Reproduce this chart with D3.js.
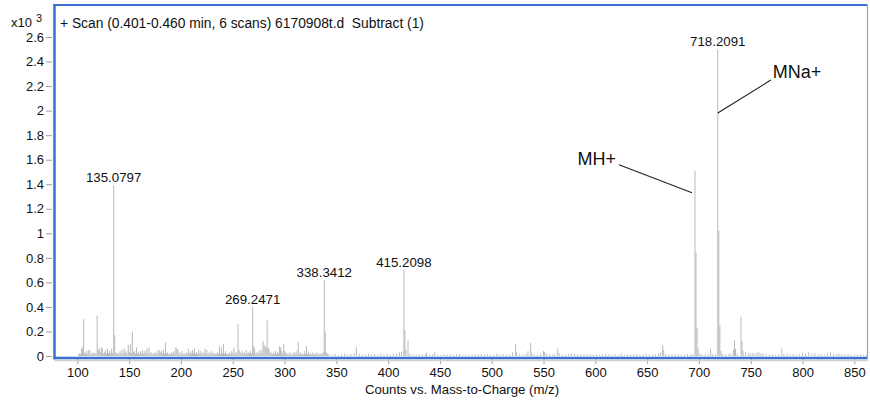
<!DOCTYPE html>
<html>
<head>
<meta charset="utf-8">
<script src="https://cdn.jsdelivr.net/npm/d3@7"></script>
<style>
  body { margin: 0; background: #fff; }
  svg { display: block; font-family: "Liberation Sans", Arial, sans-serif; }
</style>
</head>
<body>
<svg id="chart" width="870" height="402"></svg>
<script>
// ---------------- DATA ----------------
const titleText = "+ Scan (0.401-0.460 min, 6 scans) 6170908t.d  Subtract (1)";
const xLabelText = "Counts vs. Mass-to-Charge (m/z)";
const yScaleText = "x10";
const yScaleExp = "3";
const xTicks = [100,150,200,250,300,350,400,450,500,550,600,650,700,750,800,850];
const yTicks = [0,0.2,0.4,0.6,0.8,1,1.2,1.4,1.6,1.8,2,2.2,2.4,2.6];

// spectrum lines: [m/z, counts x10^3]
const peaks = [
  [101.1,0.012],[102.1,0.02],[103.1,0.015],[104.1,0.06],[105.1,0.07],[106.1,0.30],[107.1,0.03],[108.1,0.02],[109.1,0.04],
  [110.1,0.02],[111.1,0.05],[112.1,0.045],[113.1,0.02],[114.1,0.015],[115.1,0.03],[116.1,0.02],[117.1,0.025],[118.1,0.02],
  [119.1,0.33],[120.1,0.05],[121.1,0.06],[122.1,0.03],[123.1,0.07],[124.1,0.06],[125.1,0.02],[126.1,0.03],[127.1,0.05],
  [128.1,0.02],[129.1,0.06],[130.1,0.025],[131.1,0.04],[132.1,0.02],[133.1,0.06],[134.1,0.025],[135.08,1.39],[136.1,0.17],
  [137.1,0.03],[138.1,0.02],[139.1,0.025],[140.1,0.015],[141.1,0.04],[142.1,0.02],[143.1,0.05],[144.1,0.02],[145.1,0.06],
  [146.1,0.03],[147.1,0.04],[148.1,0.02],[149.1,0.09],[150.1,0.03],[151.1,0.10],[152.1,0.025],[153.1,0.20],[154.1,0.03],
  [155.1,0.04],[156.1,0.02],[157.1,0.07],[158.1,0.02],[159.1,0.03],[160.1,0.015],[161.1,0.04],[162.1,0.02],[163.1,0.05],
  [164.1,0.02],[165.1,0.04],[166.1,0.02],[167.1,0.06],[168.1,0.02],[169.1,0.07],[170.1,0.02],[171.1,0.03],[172.1,0.015],
  [173.1,0.02],[174.1,0.02],[175.1,0.03],[176.1,0.015],[177.1,0.04],[178.1,0.02],[179.1,0.05],[180.1,0.03],[181.1,0.04],
  [182.1,0.02],[183.1,0.05],[184.1,0.02],[185.1,0.11],[186.1,0.02],[187.1,0.03],[188.1,0.015],[189.1,0.02],[190.1,0.015],
  [191.1,0.03],[192.1,0.02],[193.1,0.04],[194.1,0.02],[195.1,0.07],[196.1,0.06],[197.1,0.05],[198.1,0.02],[199.1,0.03],
  [200.1,0.015],[201.1,0.04],[202.1,0.015],[203.1,0.02],[204.1,0.015],[205.1,0.03],[206.1,0.02],[207.1,0.06],[208.1,0.02],
  [209.1,0.04],[210.1,0.02],[211.1,0.05],[212.1,0.02],[213.1,0.06],[214.1,0.02],[215.1,0.03],[216.1,0.015],[217.1,0.05],
  [218.1,0.02],[219.1,0.04],[220.1,0.015],[221.1,0.03],[222.1,0.02],[223.1,0.06],[224.1,0.02],[225.1,0.05],[226.1,0.02],
  [227.1,0.03],[228.1,0.015],[229.1,0.04],[230.1,0.015],[231.1,0.03],[232.1,0.015],[233.1,0.02],[234.1,0.015],[235.1,0.03],
  [236.1,0.02],[237.1,0.08],[238.1,0.02],[239.1,0.07],[240.1,0.02],[241.1,0.10],[242.1,0.02],[243.1,0.04],[244.1,0.015],
  [245.1,0.02],[246.1,0.015],[247.1,0.03],[248.1,0.015],[249.1,0.04],[250.1,0.02],[251.1,0.07],[252.1,0.02],[253.1,0.03],
  [254.1,0.02],[255.1,0.26],[256.1,0.05],[257.1,0.03],[258.1,0.015],[259.1,0.04],[260.1,0.02],[261.1,0.03],[262.1,0.015],
  [263.1,0.05],[264.1,0.02],[265.1,0.03],[266.1,0.02],[267.1,0.04],[268.1,0.02],[269.25,0.40],[270.2,0.08],[271.2,0.06],
  [272.2,0.02],[273.2,0.03],[274.2,0.015],[275.2,0.04],[276.2,0.02],[277.2,0.05],[278.2,0.02],[279.2,0.12],[280.2,0.09],
  [281.2,0.08],[282.2,0.07],[283.2,0.29],[284.2,0.07],[285.2,0.05],[286.2,0.02],[287.2,0.03],[288.2,0.015],[289.2,0.03],
  [290.2,0.015],[291.2,0.04],[292.2,0.015],[293.2,0.03],[294.2,0.02],[295.2,0.08],[296.2,0.07],[297.2,0.04],[298.2,0.02],
  [299.2,0.10],[300.2,0.04],[301.2,0.03],[302.2,0.015],[303.2,0.02],[304.2,0.012],[305.2,0.03],[306.2,0.012],[307.2,0.02],
  [308.2,0.012],[309.2,0.03],[310.2,0.015],[311.2,0.04],[312.2,0.015],[313.2,0.115],[314.2,0.02],[315.2,0.03],[316.2,0.012],
  [317.2,0.02],[318.2,0.012],[319.2,0.04],[320.2,0.015],[321.2,0.08],[322.2,0.015],[323.2,0.03],[324.2,0.012],[325.2,0.02],
  [326.2,0.012],[327.2,0.03],[328.2,0.012],[329.2,0.02],[330.2,0.012],[331.2,0.03],[332.2,0.012],[333.2,0.02],[334.2,0.012],
  [335.2,0.02],[336.2,0.015],[337.2,0.03],[338.34,0.62],[339.3,0.20],[340.3,0.03],[341.3,0.02],
  [343,0.015],[346,0.012],[349,0.018],[352,0.01],[355,0.014],[358,0.02],[361,0.012],[364,0.016],[367,0.022],[369.3,0.07],
  [372,0.018],[375,0.012],[378,0.015],[381,0.02],[384,0.013],[387,0.017],[390,0.011],[393,0.022],[396,0.014],[399,0.018],
  [402,0.012],[405,0.015],[408,0.02],[411,0.03],[413,0.035],[415.21,0.705],[416.2,0.21],[417.2,0.05],[419.2,0.125],[421,0.02],
  [424,0.014],[427,0.012],[430,0.016],[433,0.011],[436,0.014],[437,0.028],[440,0.012],[443,0.015],[445,0.03],[448,0.012],
  [451,0.01],[454,0.014],[457,0.011],[460,0.016],[463,0.01],[466,0.013],[469,0.017],[472,0.011],[475,0.014],[478,0.01],
  [481,0.012],[484,0.015],[487,0.011],[490,0.018],[493,0.012],[496,0.014],[499,0.01],[502,0.013],[505,0.02],[508,0.012],
  [511,0.015],[514,0.011],[517,0.014],[520,0.03],[523,0.095],[524,0.03],[527,0.015],[530,0.012],[533,0.018],[535,0.04],
  [537.6,0.105],[538.6,0.03],[541,0.016],[544,0.012],[547,0.02],[550,0.04],[551,0.035],[553,0.02],[556,0.014],[559,0.012],
  [561,0.02],[563.7,0.06],[565,0.025],[568,0.014],[571,0.012],[574,0.016],[577,0.02],[580,0.018],[583,0.012],[586,0.014],
  [589,0.01],[592,0.013],[595,0.016],[598,0.011],[601,0.014],[604,0.01],[607,0.012],[610,0.02],[613,0.013],[616,0.011],
  [619,0.015],[622,0.01],[625,0.02],[628,0.012],[631,0.014],[634,0.011],[637,0.013],[640,0.018],[643,0.011],[646,0.014],
  [649,0.02],[652,0.012],[655,0.013],[658,0.015],[661,0.02],[663,0.03],[665,0.09],[666,0.05],[668,0.015],[671,0.012],
  [674,0.014],[677,0.011],[680,0.018],[683,0.012],[686,0.014],[689,0.016],[692,0.012],[694,0.015],[696.2,1.51],[697.2,0.84],
  [698.2,0.23],[699.2,0.06],[701,0.02],[703,0.015],[706,0.013],[709,0.016],[711.3,0.06],[713,0.015],[716,0.018],[718.21,2.50],
  [719.2,1.02],[720.2,0.25],[721.2,0.04],[723,0.02],[726,0.015],[729,0.018],[731,0.02],[733.3,0.05],[734.3,0.13],[735.3,0.06],
  [737,0.02],[740.6,0.32],[741.6,0.12],[742.6,0.04],[745,0.03],[748,0.025],[750,0.02],[752,0.025],[754,0.015],[756,0.03],
  [758,0.03],[760,0.02],[762,0.02],[765,0.015],[768,0.012],[771,0.014],[774,0.01],[777,0.013],[780,0.06],[782,0.015],
  [785,0.02],[788,0.012],[791,0.014],[794,0.011],[797,0.015],[800,0.025],[803,0.018],[806,0.03],[809,0.02],[812,0.025],
  [815,0.014],[818,0.016],[821,0.012],[824,0.02],[827,0.03],[830,0.018],[833,0.015],[835,0.02],[838,0.014],[841,0.012],
  [844,0.015],[847,0.011],[850,0.013],[853,0.012],[856,0.014],[859,0.011],[862,0.01]
];

// labelled peaks
const labelMz = [135.0797, 269.2471, 338.3412, 415.2098, 718.2091];
const labelVal = [1.39, 0.40, 0.62, 0.705, 2.50];

// ion annotations (leader line ends on the peak at these values)
const ionNames = ["MNa+", "MH+"];
const ionMz = [718.21, 696.2];
const ionVal = [1.98, 1.33];

// ---------------- CHART ----------------
const svg = d3.select("#chart");
const plotLeft = 54.5, plotRight = 867.5, plotTop = 5, zeroY = 356;

const x = d3.scaleLinear().domain([76.5, 863.2]).range([53, 868]);
const y = d3.scaleLinear().domain([0, 2.6]).range([zeroY, 37]);

// spectrum lines
svg.append("g").selectAll("line").data(peaks).join("line")
  .attr("x1", d => x(d[0])).attr("x2", d => x(d[0]))
  .attr("y1", zeroY).attr("y2", d => y(d[1]))
  .attr("stroke", "#b9b9b9").attr("stroke-width", 1);

// y axis ticks + labels
const yAxis = svg.append("g").attr("transform", "translate(52,0)")
  .call(d3.axisLeft(y).tickValues(yTicks).tickSize(6).tickPadding(2)
        .tickFormat(d => String(+d.toFixed(1))));
yAxis.select(".domain").remove();
yAxis.selectAll(".tick line").attr("stroke", "#a0a0a0");
yAxis.selectAll(".tick text").attr("font-size", 13).attr("fill", "#111")
  .attr("font-family", "Liberation Sans, Arial, sans-serif");

// x axis ticks + labels
const xAxis = svg.append("g").attr("transform", "translate(0,359)")
  .call(d3.axisBottom(x).tickValues(xTicks).tickSize(5).tickPadding(4));
xAxis.select(".domain").remove();
xAxis.selectAll(".tick line").attr("stroke", "#a0a0a0");
xAxis.selectAll(".tick text").attr("font-size", 13).attr("fill", "#111")
  .attr("font-family", "Liberation Sans, Arial, sans-serif");

// frame
const blue = "#3b6fd4";
svg.append("line").attr("x1", plotLeft).attr("x2", plotRight).attr("y1", 360.5).attr("y2", 360.5)
  .attr("stroke", "#d0d0d0").attr("stroke-width", 1.5);
svg.append("line").attr("x1", plotLeft - 1.2).attr("x2", plotRight).attr("y1", plotTop).attr("y2", plotTop)
  .attr("stroke", blue).attr("stroke-width", 2);
svg.append("line").attr("x1", plotLeft - 1.2).attr("x2", plotRight).attr("y1", 358).attr("y2", 358)
  .attr("stroke", blue).attr("stroke-width", 2.5);
svg.append("line").attr("x1", plotLeft).attr("x2", plotLeft).attr("y1", plotTop - 1).attr("y2", 359.2)
  .attr("stroke", blue).attr("stroke-width", 2.5);
svg.append("line").attr("x1", plotRight).attr("x2", plotRight).attr("y1", plotTop).attr("y2", 358)
  .attr("stroke", "#8aa6e0").attr("stroke-width", 1.2);

// title
svg.append("text").attr("x", 60).attr("y", 27.5).attr("font-size", 13.8).attr("fill", "#111")
  .attr("xml:space", "preserve").style("white-space", "pre").text(titleText);

// x10^3
const sc = svg.append("text").attr("x", 11).attr("y", 26.5).attr("font-size", 13).attr("fill", "#111");
sc.append("tspan").text(yScaleText);
sc.append("tspan").attr("dx", 4).attr("dy", -5).attr("font-size", 11).text(yScaleExp);

// x label
svg.append("text").attr("x", 462).attr("y", 394).attr("text-anchor", "middle")
  .attr("font-size", 13.2).attr("fill", "#111").text(xLabelText);

// peak labels
svg.append("g").selectAll("text").data(labelMz).join("text")
  .attr("x", d => x(d)).attr("y", (d, i) => y(labelVal[i]) - 3)
  .attr("text-anchor", "middle").attr("font-size", 13.3).attr("fill", "#111")
  .text(d => d.toFixed(4));

// ion annotations
const ionGap = [[53, -33], [-73, -28]];
ionNames.forEach((name, i) => {
  const ex = x(ionMz[i]) + (i === 1 ? -3 : 0), ey = y(ionVal[i]);
  const sx = ex + ionGap[i][0], sy = ey + ionGap[i][1];
  svg.append("line").attr("x1", sx).attr("y1", sy).attr("x2", ex).attr("y2", ey)
    .attr("stroke", "#222").attr("stroke-width", 1.1);
  svg.append("text")
    .attr("x", i === 0 ? sx + 2 : sx - 3)
    .attr("y", i === 0 ? sy - 2 : sy)
    .attr("text-anchor", i === 0 ? "start" : "end")
    .attr("font-size", 18).attr("fill", "#111").text(name);
});
</script>
</body>
</html>
